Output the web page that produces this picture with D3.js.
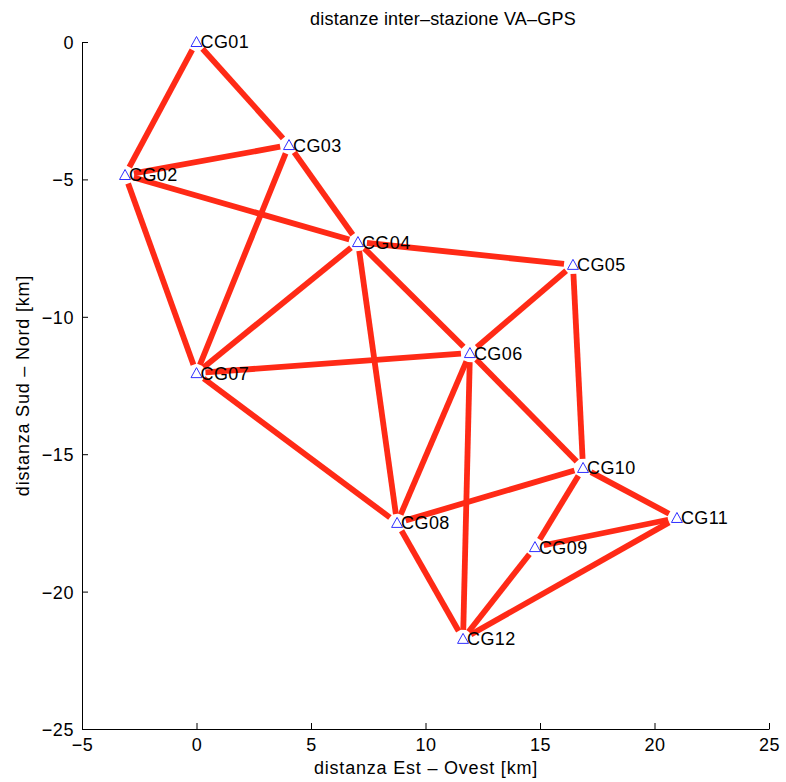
<!DOCTYPE html>
<html>
<head>
<meta charset="utf-8">
<script src="https://cdn.jsdelivr.net/npm/d3@7"></script>
<style>
  html, body { margin: 0; padding: 0; background: #fff; }
  svg { display: block; font-family: "Liberation Sans", Arial, Helvetica, sans-serif; }
</style>
</head>
<body>
<svg id="chart" width="786" height="782"></svg>
<script>
// GPS station names and coordinates (km, East-West / South-North)
const stations = ["CG01","CG02","CG03","CG04","CG05","CG06","CG07","CG08","CG09","CG10","CG11","CG12"];
const stationX = [0, -3.12, 4.04, 7.05, 16.44, 11.94, 0, 8.76, 14.78, 16.88, 20.98, 11.64];
const stationY = [0, -4.84, -3.75, -7.28, -8.11, -11.32, -12.05, -17.5, -18.38, -15.5, -17.32, -21.72];

// Inter-station baselines (pairs of station names)
const baselines = [
  ["CG01","CG02"], ["CG01","CG03"], ["CG02","CG03"], ["CG02","CG04"], ["CG02","CG07"],
  ["CG03","CG04"], ["CG03","CG07"], ["CG04","CG05"], ["CG04","CG06"], ["CG04","CG07"],
  ["CG04","CG08"], ["CG05","CG06"], ["CG05","CG10"], ["CG06","CG07"], ["CG06","CG08"],
  ["CG06","CG10"], ["CG06","CG12"], ["CG07","CG08"], ["CG08","CG10"], ["CG08","CG12"],
  ["CG09","CG10"], ["CG09","CG11"], ["CG09","CG12"], ["CG10","CG11"], ["CG11","CG12"]
];

const xTicks = [-5, 0, 5, 10, 15, 20, 25];
const yTicks = [0, -5, -10, -15, -20, -25];

const titleText = "distanze inter\u2013stazione VA\u2013GPS";
const xLabel = "distanza Est \u2013 Ovest [km]";
const yLabel = "distanza Sud \u2013 Nord [km]";

const svg = d3.select("#chart");
const m = { left: 82, right: 769, top: 42, bottom: 729 };

const x = d3.scaleLinear().domain([-5, 25]).range([m.left, m.right]);
const y = d3.scaleLinear().domain([-25, 0]).range([m.bottom, m.top]);

const fmt = d => (d < 0 ? "\u2212" + Math.abs(d) : String(d));

// Axes: ticks point inward, left and bottom spines only
const xAxis = svg.append("g")
  .attr("transform", `translate(0,${m.bottom})`)
  .call(d3.axisBottom(x).tickValues(xTicks).tickSizeInner(-6).tickSizeOuter(0).tickFormat(fmt));
const yAxis = svg.append("g")
  .attr("transform", `translate(${m.left},0)`)
  .call(d3.axisLeft(y).tickValues(yTicks).tickSizeInner(-6).tickSizeOuter(0).tickFormat(fmt));

[xAxis, yAxis].forEach(g => {
  g.select(".domain").attr("stroke", "#000").attr("stroke-width", 1);
  g.selectAll(".tick line").attr("stroke", "#000").attr("stroke-width", 1);
  g.selectAll(".tick text").attr("fill", "#000")
    .style("font-size", "18px")
    .style("letter-spacing", "0.6px")
    .style("font-family", "'Liberation Sans', Arial, sans-serif");
});
xAxis.selectAll(".tick text").attr("y", 22).attr("dy", 0);
yAxis.selectAll(".tick text").attr("x", -8).attr("dy", "0.36em");

// Baselines, trimmed a little at each end so the stations stay readable
const idx = name => stations.indexOf(name);
const trim = 9;
svg.append("g").selectAll("line")
  .data(baselines)
  .join("line")
  .each(function(d) {
    const a = idx(d[0]), b = idx(d[1]);
    const x1 = x(stationX[a]), y1 = y(stationY[a]);
    const x2 = x(stationX[b]), y2 = y(stationY[b]);
    const len = Math.hypot(x2 - x1, y2 - y1);
    const ux = (x2 - x1) / len, uy = (y2 - y1) / len;
    d3.select(this)
      .attr("x1", x1 + ux * trim).attr("y1", y1 + uy * trim)
      .attr("x2", x2 - ux * trim).attr("y2", y2 - uy * trim);
  })
  .attr("stroke", "#ff2a16")
  .attr("stroke-width", 5.8)
  .attr("stroke-linecap", "butt");

// Station markers: hollow blue triangles with labels
const st = svg.append("g").selectAll("g")
  .data(stations)
  .join("g")
  .attr("transform", (d, i) => `translate(${x(stationX[i])},${y(stationY[i])})`);

st.append("path")
  .attr("d", "M0,-5.5 L5.5,4.5 L-5.5,4.5 Z")
  .attr("fill", "none")
  .attr("stroke", "#2f2fff")
  .attr("stroke-width", 1);

st.append("text")
  .attr("x", 4)
  .attr("y", 0)
  .attr("dy", "0.36em")
  .style("font-size", "18px")
  .style("letter-spacing", "0.4px")
  .attr("fill", "#000")
  .text(d => d);

// Title and axis labels
svg.append("text")
  .attr("x", 443).attr("y", 25)
  .attr("text-anchor", "middle")
  .style("font-size", "18px")
  .style("letter-spacing", "0.2px")
  .text(titleText);

svg.append("text")
  .attr("x", 426).attr("y", 774)
  .attr("text-anchor", "middle")
  .style("font-size", "18px")
  .style("letter-spacing", "0.8px")
  .text(xLabel);

svg.append("text")
  .attr("transform", `translate(29,${(m.top + m.bottom) / 2}) rotate(-90)`)
  .attr("text-anchor", "middle")
  .style("font-size", "18px")
  .style("letter-spacing", "0.8px")
  .text(yLabel);
</script>
</body>
</html>
